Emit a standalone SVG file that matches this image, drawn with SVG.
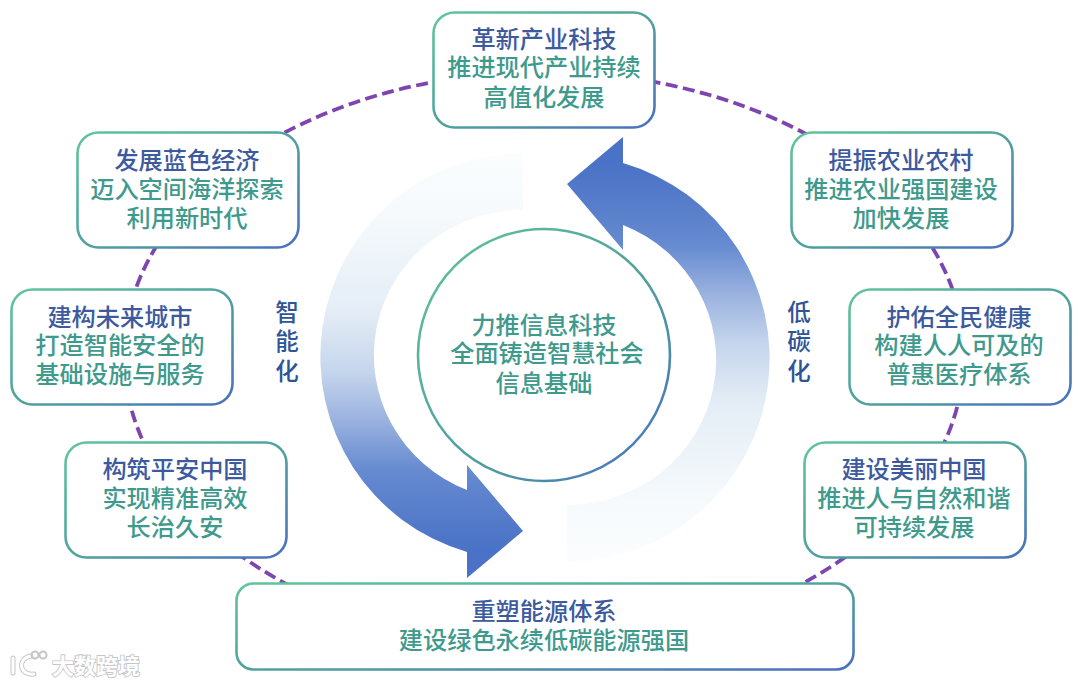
<svg xmlns="http://www.w3.org/2000/svg" width="1080" height="685" viewBox="0 0 1080 685">
<style>
text{font-family:"Noto Sans CJK SC","Noto Sans",sans-serif;font-size:24.200px;font-weight:500;text-anchor:middle}
.t{fill:#3d5a9f}
.s{fill:#3f9a8e}
.v{fill:#2f5597;font-size:23.500px}
.box{fill:#fff;stroke:url(#edge);stroke-width:2.6}
.link{fill:none;stroke:#7e45b0;stroke-width:3.8;stroke-dasharray:12 5.500}
.wm{fill:#fff;stroke:#c6c6c6;stroke-width:1.800;font-size:22px;font-weight:700;paint-order:stroke}
.wl{fill:none;stroke:#c6c6c6;stroke-width:5;stroke-linecap:round}
.wl2{fill:none;stroke:#fff;stroke-width:3;stroke-linecap:round}
.wo{fill:none;stroke:#c6c6c6;stroke-width:2}
</style>
<defs>
<linearGradient id="edge" x1="0" y1="0" x2="1" y2="1">
<stop offset="0" stop-color="#62c59b"/><stop offset=".55" stop-color="#4f9f9f"/><stop offset="1" stop-color="#4a6fc0"/>
</linearGradient>
<linearGradient id="flow" gradientUnits="userSpaceOnUse" x1="0" y1="165" x2="0" y2="562">
<stop offset="0" stop-color="#4a72c6"/><stop offset=".2" stop-color="#658ad0"/><stop offset=".34" stop-color="#9fb6e0"/><stop offset=".45" stop-color="#c5d5ec"/><stop offset=".6" stop-color="#e4edf6"/><stop offset=".85" stop-color="#f6fafc"/><stop offset="1" stop-color="#fbfdfe"/>
</linearGradient>
<path id="arrow" d="M567 184 L623 137 L623 163 A203 203.500 0 0 1 567 562 L567 505 A149 145.300 0 0 0 623 225 L623 250 Z" fill="url(#flow)"/>
</defs>
<rect width="1080" height="685" fill="#fff"/>
<g id="connectors">
<path class="link" d="M544 72 A420 283 0 0 1 848 160"/>
<path class="link" d="M848 160 A420 283 0 0 1 964 355"/>
<path class="link" d="M964 355 A420 290 0 0 1 898 511"/>
<path class="link" d="M898 511 A420 290 0 0 1 544 645"/>
<path class="link" d="M544 645 A420 290 0 0 1 190 511"/>
<path class="link" d="M190 511 A420 290 0 0 1 124 355"/>
<path class="link" d="M124 355 A420 283 0 0 1 240 160"/>
<path class="link" d="M240 160 A420 283 0 0 1 544 72"/>
</g>
<g id="cycle-arrows">
<use href="#arrow"/>
<use href="#arrow" transform="rotate(180 545 357.500)"/>
</g>
<g id="node-top"><rect class="box" x="433.500" y="12.500" width="221" height="115" rx="21"/><text class="t" x="544" y="48">革新产业科技</text><text class="s" x="544" y="76">推进现代产业持续</text><text class="s" x="544" y="106">高值化发展</text></g>
<g id="node-blue"><rect class="box" x="77.500" y="132.500" width="221" height="115" rx="21"/><text class="t" x="187" y="169">发展蓝色经济</text><text class="s" x="187" y="198">迈入空间海洋探索</text><text class="s" x="187" y="227">利用新时代</text></g>
<g id="node-agri"><rect class="box" x="791.500" y="132.500" width="221" height="115" rx="21"/><text class="t" x="901" y="169">提振农业农村</text><text class="s" x="901" y="198">推进农业强国建设</text><text class="s" x="901" y="227">加快发展</text></g>
<g id="node-city"><rect class="box" x="11.500" y="289.500" width="221" height="115" rx="21"/><text class="t" x="120" y="326">建构未来城市</text><text class="s" x="120" y="354">打造智能安全的</text><text class="s" x="120" y="383">基础设施与服务</text></g>
<g id="node-health"><rect class="box" x="849.500" y="289.500" width="221" height="115" rx="21"/><text class="t" x="959" y="326">护佑全民健康</text><text class="s" x="959" y="354">构建人人可及的</text><text class="s" x="959" y="383">普惠医疗体系</text></g>
<g id="node-safe"><rect class="box" x="65.500" y="442.500" width="221" height="115" rx="21"/><text class="t" x="175" y="478">构筑平安中国</text><text class="s" x="175" y="507">实现精准高效</text><text class="s" x="175" y="536">长治久安</text></g>
<g id="node-china"><rect class="box" x="804.500" y="442.500" width="221" height="115" rx="21"/><text class="t" x="914" y="478">建设美丽中国</text><text class="s" x="914" y="507">推进人与自然和谐</text><text class="s" x="914" y="536">可持续发展</text></g>
<g id="node-energy"><rect class="box" x="236.500" y="583.500" width="617" height="86" rx="17"/><text class="t" x="544" y="620">重塑能源体系</text><text class="s" x="544" y="649">建设绿色永续低碳能源强国</text></g>
<g id="node-center"><circle class="box" cx="544" cy="355" r="126"/><text class="s" x="544" y="334">力推信息科技</text><text class="s" x="547" y="362">全面铸造智慧社会</text><text class="s" x="544" y="392">信息基础</text></g>
<g id="labels">
<text class="v" x="287" y="321">智</text><text class="v" x="287" y="350">能</text><text class="v" x="287" y="380">化</text>
<text class="v" x="799" y="321">低</text><text class="v" x="799" y="350">碳</text><text class="v" x="799" y="380">化</text>
</g>
<g id="watermark">
<path class="wl" d="M13 658 V673 M31 656 C17 658 19 676 34 674"/>
<path class="wl2" d="M13 658 V673 M31 656 C17 658 19 676 34 674"/>
<circle class="wo" cx="35" cy="655" r="3.500"/><circle class="wo" cx="43" cy="655" r="3.500"/>
<text class="wm" x="96" y="674">大数跨境</text>
</g>
</svg>
